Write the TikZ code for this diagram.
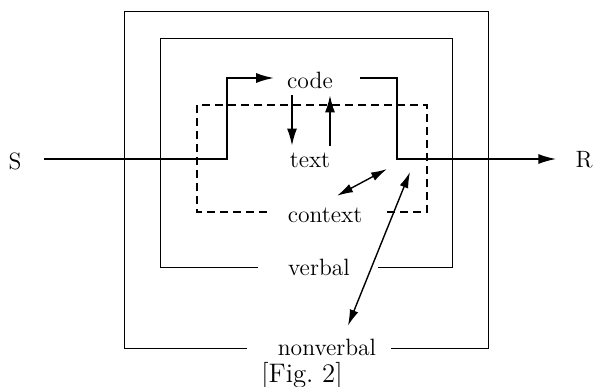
\documentclass[tikz,border=0pt]{standalone}
\usepackage{tikz}
\usetikzlibrary{arrows.meta}

\begin{document}
\begin{tikzpicture}[x=0.5pt,y=-0.5pt,>={Latex[length=9pt,width=5pt]},node distance=40pt,
  word node/.style={font=\fontsize{11.8}{14}\selectfont},
  frame line/.style={line width=0.45pt},
  signal line/.style={line width=1pt},
  context line/.style={line width=1pt,dash pattern=on 4pt off 2.5pt},
  flow arrow/.style={line width=0.8pt,-{Latex[length=8.5pt,width=5pt]}},
  link arrow/.style={line width=0.7pt,{Latex[length=8pt,width=4.5pt]}-{Latex[length=8pt,width=4.5pt]}}]

  \useasboundingbox (0,0) rectangle (594,386);

  \node[word node] (S) at (15,161) {S};
  \node[word node] (R) at (584,160) {R};
  \node[word node] (code) at (310,80) {code};
  \node[word node] (text) [below of=code] {text};
  \node[word node] (context) at (325,215) {context};
  \node[word node] (verbal) at (319,267) {verbal};
  \node[word node] (nonverbal) at (327,347) {nonverbal};
  \node[font=\fontsize{13.4}{16}\selectfont] (fig) at (302,376) {[Fig.~2]};

  % frames
  \draw[frame line] (247,348) -- (124,348) -- (124,11) -- (488,11) -- (488,348) -- (391,348);
  \draw[frame line] (258,267) -- (160,267) -- (160,38) -- (452,38) -- (452,267) -- (378,267);
  \draw[context line] (267,212) -- (197,212) -- (197,105) -- (427,105) -- (427,212) -- (383,212);

  % signal S -> code -> R
  \coordinate (in low) at (227,159);
  \coordinate (in high) at (227,78);
  \coordinate (out corner) at (397,78);
  \coordinate (out low) at (397,159);
  \draw[signal line,->,shorten <=7.8pt,shorten >=3pt]
    (S.east |- in low) -- (in low) -- (in high) -- (in high -| code.west);
  \draw[signal line,->,shorten <=10pt,shorten >=6pt]
    (code.east |- out corner) -- (out corner) -- (out low) -- (R.west |- out low);

  % code <-> text
  \draw[flow arrow] ([xshift=-9pt]code.south) -- ([xshift=-9pt]code.south |- text.north);
  \draw[flow arrow] ([xshift=10pt]text.north) -- ([xshift=10pt]text.north |- code.south);

  % links
  \coordinate (text link) at (387,169);
  \coordinate (signal link) at (410,172);
  \draw[link arrow] ([shift={(6pt,2.4pt)}]context.north) -- (text link);
  \draw[link arrow] ([shift={(10.5pt,3pt)}]nonverbal.north) -- (signal link);

\end{tikzpicture}
\end{document}
